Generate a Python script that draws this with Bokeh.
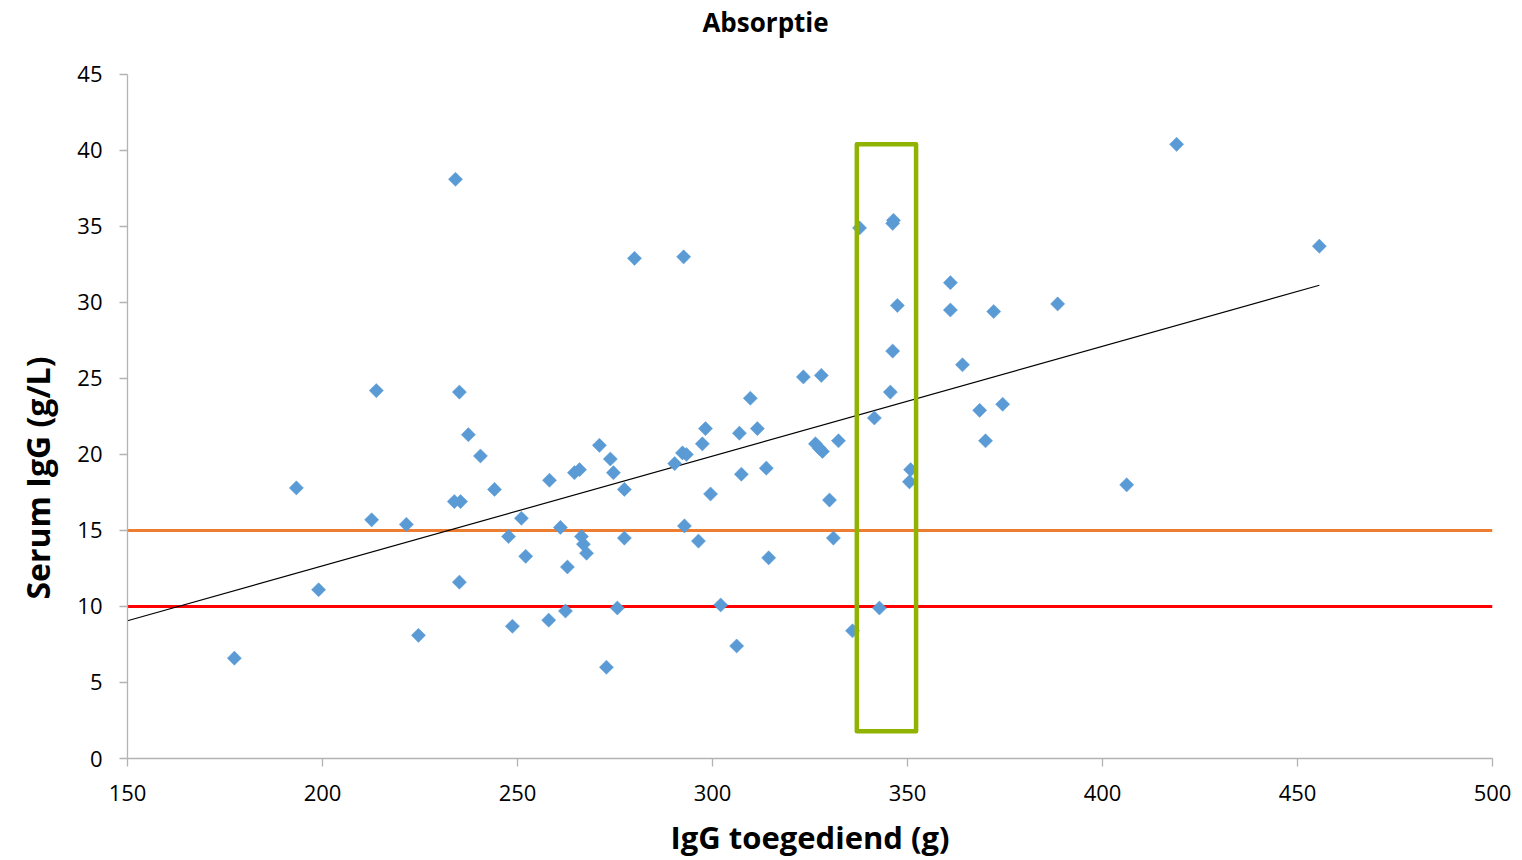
import numpy as np
from bokeh.plotting import figure
from bokeh.models import Range1d, FixedTicker, ColumnDataSource, Title, Label
from bokeh.embed import file_html
from bokeh.resources import INLINE

# --- data ---
igg_given = [177.4, 193.3, 199.0, 212.6, 213.8, 221.5, 224.6, 234.1, 233.8, 235.4,
             235.1, 235.1, 237.4, 240.5, 244.1, 247.7, 248.7, 251.0, 252.1, 258.0,
             258.2, 261.0, 262.3, 262.8, 264.6, 265.9, 266.4, 266.9, 267.7, 271.0,
             272.8, 273.8, 274.6, 275.6, 277.4, 277.4, 280.0, 290.3, 292.3, 293.3,
             292.6, 292.8, 296.4, 297.4, 298.2, 299.5, 302.1, 306.2, 306.9, 307.4,
             309.7, 311.5, 313.8, 314.4, 323.3, 326.4, 327.4, 328.2, 327.9, 330.0,
             331.0, 332.3, 335.9, 337.7, 341.5, 342.8, 345.6, 346.2, 346.2, 346.4,
             347.4, 350.8, 350.5, 361.0, 361.0, 364.1, 368.5, 370.0, 372.1, 374.4,
             388.5, 406.2, 419.0, 455.6]
serum_igg = [6.6, 17.8, 11.1, 15.7, 24.2, 15.4, 8.1, 38.1, 16.9, 16.9,
             24.1, 11.6, 21.3, 19.9, 17.7, 14.6, 8.7, 15.8, 13.3, 9.1,
             18.3, 15.2, 9.7, 12.6, 18.8, 19.0, 14.6, 14.1, 13.5, 20.6,
             6.0, 19.7, 18.8, 9.9, 17.7, 14.5, 32.9, 19.4, 20.1, 20.0,
             33.0, 15.3, 14.3, 20.7, 21.7, 17.4, 10.1, 7.4, 21.4, 18.7,
             23.7, 21.7, 19.1, 13.2, 25.1, 20.7, 20.4, 20.2, 25.2, 17.0,
             14.5, 20.9, 8.4, 34.9, 22.4, 9.9, 24.1, 26.8, 35.2, 35.4,
             29.8, 19.0, 18.2, 31.3, 29.5, 25.9, 22.9, 20.9, 29.4, 23.3,
             29.9, 18.0, 40.4, 33.7]
limit_orange = 15
limit_red = 10
box_x = [337.0, 352.2]
box_y = [1.8, 40.4]
x_ticks = [150, 200, 250, 300, 350, 400, 450, 500]
y_ticks = [0, 5, 10, 15, 20, 25, 30, 35, 40, 45]
title_text = "Absorptie"
x_label = "IgG toegediend (g)"
y_label = "Serum IgG (g/L)"

FONT = "Open Sans"

# the y range is extended above 45 so the chart title can sit in the frame's top strip
p = figure(width=1522, height=860, output_backend="svg", toolbar_location=None,
           x_range=Range1d(150, 500), y_range=Range1d(0, 49.86),
           min_border_left=127, min_border_right=30, min_border_top=0,
           min_border_bottom=101)
p.outline_line_color = None
p.xgrid.visible = False
p.ygrid.visible = False

for ax in (p.xaxis, p.yaxis):
    ax.axis_line_color = "#B3B3B3"
    ax.axis_line_width = 1.3
    ax.major_tick_line_color = "#B3B3B3"
    ax.major_tick_line_width = 1.3
    ax.minor_tick_line_color = None
    ax.major_tick_in = 0
    ax.major_tick_out = 8
    ax.major_label_text_font = FONT
    ax.major_label_text_font_size = "22px"
    ax.major_label_text_color = "#000000"

p.xaxis.ticker = FixedTicker(ticks=x_ticks)
p.yaxis.ticker = FixedTicker(ticks=y_ticks)
p.yaxis.bounds = (0, 45)
p.xaxis.major_label_standoff = 18
p.yaxis.major_label_standoff = 17

p.xaxis.axis_label = x_label
p.xaxis.axis_label_text_font = FONT
p.xaxis.axis_label_text_font_size = "31px"
p.xaxis.axis_label_text_font_style = "bold"
p.xaxis.axis_label_text_color = "#000000"
p.xaxis.axis_label_standoff = 12

# chart title
p.add_layout(Label(x=313.6, y=48.42, text=title_text, text_font=FONT,
                   text_font_size="26px", text_font_style="bold",
                   text_align="center", text_baseline="middle", text_color="#000000"))
# y axis title, placed lower along the axis like the original
p.add_layout(Title(text=y_label, align="left", offset=159, standoff=28,
                   vertical_align="top",
                   text_font=FONT, text_font_size="32px", text_font_style="bold",
                   text_color="#000000"), "left")

# threshold lines
p.line(x=[150, 500], y=[limit_orange, limit_orange], line_color="#ED7D31", line_width=3)
p.line(x=[150, 500], y=[limit_red, limit_red], line_color="#FF0000", line_width=3)

# trendline (linear least squares)
xs = np.array(igg_given)
ys = np.array(serum_igg)
slope, intercept = np.polyfit(xs, ys, 1)
tx = [150, xs.max()]
p.line(x=tx, y=[slope * t + intercept for t in tx], line_color="#000000", line_width=1.2)

# points
src = ColumnDataSource(data=dict(x=igg_given, y=serum_igg))
p.scatter(x="x", y="y", source=src, marker="square", size=10, angle=np.pi / 4,
          fill_color="#5B9BD5", line_color="#5B9BD5", line_width=0.5)

# highlight box
p.quad(left=[box_x[0]], right=[box_x[1]], bottom=[box_y[0]], top=[box_y[1]],
       fill_color=None, line_color="#8FB300", line_width=4.5, line_join="round")

open("out.html", "w").write(file_html(p, INLINE))
